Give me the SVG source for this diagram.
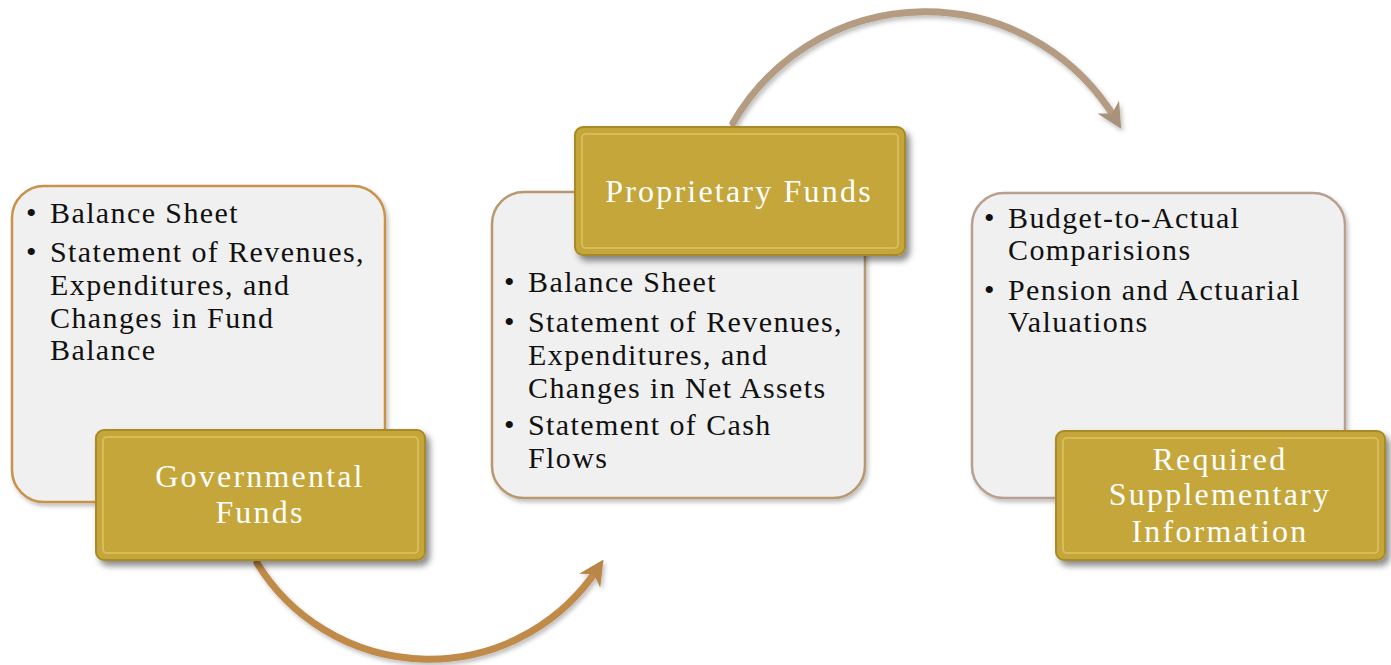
<svg xmlns="http://www.w3.org/2000/svg" width="1391" height="665" viewBox="0 0 1391 665">
<defs>
<style>
.card{fill:#f0f0f0;stroke-width:2.5}
.gold{fill:#c4a63a;stroke:#a88a28;stroke-width:2}
.inner{fill:none;stroke:#d8bc58;stroke-width:2}
.txt{font-family:"Liberation Serif","Times New Roman",serif;font-size:30px;letter-spacing:1.4px;fill:#111}
.gt{font-family:"Liberation Serif","Times New Roman",serif;font-size:32px;letter-spacing:2.2px;fill:#fff;text-anchor:middle}
.arc{fill:none;stroke-width:7;stroke-linecap:round}
</style>
<filter id="sh" x="-10%" y="-10%" width="130%" height="140%">
<feDropShadow dx="4" dy="5" stdDeviation="3" flood-color="#000" flood-opacity="0.45"/>
</filter>
<filter id="sh2" x="-10%" y="-10%" width="130%" height="130%">
<feDropShadow dx="2" dy="3" stdDeviation="2" flood-color="#000" flood-opacity="0.25"/>
</filter>
<marker id="ah1" viewBox="0 0 10 10" refX="6" refY="5" markerWidth="3.6" markerHeight="3.6" orient="auto" markerUnits="strokeWidth">
<path d="M0,0 L10,5 L0,10 L3,5 Z" fill="#b98646"/>
</marker>
<marker id="ah2" viewBox="0 0 10 10" refX="6" refY="5" markerWidth="3.6" markerHeight="3.6" orient="auto" markerUnits="strokeWidth">
<path d="M0,0 L10,5 L0,10 L3,5 Z" fill="#a8927a"/>
</marker>
</defs>
<rect width="1391" height="665" fill="#fff"/>

<g id="connectors">
<path class="arc" d="M257,563 A202,202 0 0 0 598,568" stroke="#c08a4a" marker-end="url(#ah1)" filter="url(#sh2)"/>
<path class="arc" d="M733,123 A222,222 0 0 1 1116,120" stroke="#b39c82" marker-end="url(#ah2)" filter="url(#sh2)"/>
</g>

<g id="node-governmental">
<rect class="card" x="12" y="186" width="373" height="316" rx="32" stroke="#c8924a" filter="url(#sh2)"/>
<text class="txt" x="26" y="223">•</text>
<text class="txt" x="50" y="223">Balance Sheet</text>
<text class="txt" x="26" y="262">•</text>
<text class="txt" x="50" y="262">Statement of Revenues,</text>
<text class="txt" x="50" y="295">Expenditures, and</text>
<text class="txt" x="50" y="328">Changes in Fund</text>
<text class="txt" x="50" y="360">Balance</text>
<rect class="gold" x="96" y="430" width="329" height="130" rx="8" filter="url(#sh)"/>
<rect class="inner" x="103" y="437" width="315" height="116" rx="4"/>
<text class="gt" x="260" y="487">Governmental</text>
<text class="gt" x="260" y="523">Funds</text>
</g>

<g id="node-proprietary">
<rect class="card" x="492" y="192" width="373" height="306" rx="32" stroke="#b89870" filter="url(#sh2)"/>
<text class="txt" x="504" y="292">•</text>
<text class="txt" x="528" y="292">Balance Sheet</text>
<text class="txt" x="504" y="332">•</text>
<text class="txt" x="528" y="332">Statement of Revenues,</text>
<text class="txt" x="528" y="365">Expenditures, and</text>
<text class="txt" x="528" y="398">Changes in Net Assets</text>
<text class="txt" x="504" y="435">•</text>
<text class="txt" x="528" y="435">Statement of Cash</text>
<text class="txt" x="528" y="468">Flows</text>
<rect class="gold" x="575" y="127" width="330" height="128" rx="8" filter="url(#sh)"/>
<rect class="inner" x="582" y="134" width="316" height="114" rx="4"/>
<text class="gt" x="739" y="202">Proprietary Funds</text>
</g>

<g id="node-rsi">
<rect class="card" x="972" y="193" width="373" height="305" rx="32" stroke="#b8a090" filter="url(#sh2)"/>
<text class="txt" x="984" y="228">•</text>
<text class="txt" x="1008" y="228">Budget-to-Actual</text>
<text class="txt" x="1008" y="260">Comparisions</text>
<text class="txt" x="984" y="300">•</text>
<text class="txt" x="1008" y="300">Pension and Actuarial</text>
<text class="txt" x="1008" y="332">Valuations</text>
<rect class="gold" x="1056" y="431" width="329" height="129" rx="8" filter="url(#sh)"/>
<rect class="inner" x="1063" y="438" width="315" height="115" rx="4"/>
<text class="gt" x="1220" y="470">Required</text>
<text class="gt" x="1220" y="505">Supplementary</text>
<text class="gt" x="1220" y="542">Information</text>
</g>
</svg>
